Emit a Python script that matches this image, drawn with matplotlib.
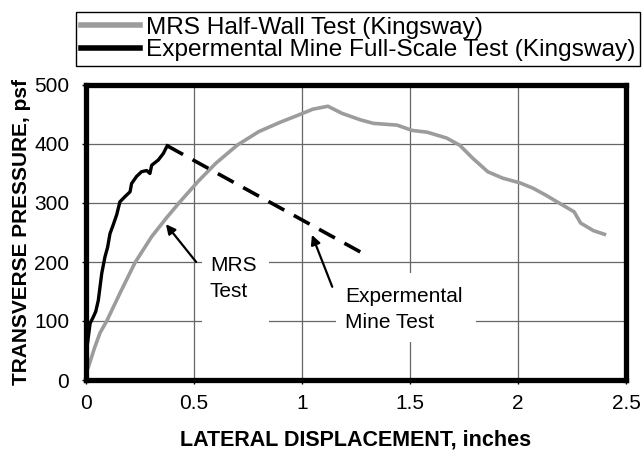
import matplotlib
matplotlib.use("Agg")
import matplotlib.pyplot as plt
from matplotlib.patches import Rectangle

plt.rcParams["font.family"] = ["Liberation Sans", "DejaVu Sans"]

# MRS half-wall test (gray)
mrs_x = [0.011, 0.04, 0.065, 0.096, 0.157, 0.227, 0.304, 0.373, 0.435, 0.52, 0.60,
         0.70, 0.80, 0.90, 0.99, 1.05, 1.12, 1.185, 1.27, 1.33, 1.44, 1.51, 1.58,
         1.67, 1.73, 1.79, 1.86, 1.93, 2.01, 2.07, 2.13, 2.19, 2.26, 2.29, 2.35, 2.40]
mrs_y = [22, 55, 80, 100, 147, 199, 243, 275, 302, 337, 367,
         398, 421, 437, 450, 459, 464, 452, 441, 435, 432, 423, 420,
         410, 398, 376, 353, 342, 334, 325, 313, 300, 285, 266, 253, 247]

# experimental mine full-scale test (black)
exp_x = [0.0, 0.003, 0.019, 0.034, 0.045, 0.057, 0.073, 0.088, 0.10, 0.111, 0.126,
         0.142, 0.157, 0.181, 0.204, 0.211, 0.234, 0.257, 0.281, 0.296, 0.304,
         0.335, 0.358, 0.376]
exp_y = [0, 51, 96, 107, 116, 135, 181, 209, 225, 248, 263,
         280, 302, 311, 319, 333, 345, 353, 355, 350, 364,
         373, 384, 397]

# dashed post-peak segment
drop_x = [0.376, 1.28]
drop_y = [397, 215]

xticks = [0, 0.5, 1, 1.5, 2, 2.5]
yticks = [0, 100, 200, 300, 400, 500]

fig = plt.figure(figsize=(6.43, 4.54), dpi=100)
ax = fig.add_axes([86 / 643, 1 - 380 / 454, 540 / 643, 295 / 454])

ax.set_xlim(0, 2.5)
ax.set_ylim(0, 500)
ax.set_xticks(xticks)
ax.set_xticklabels(["0", "0.5", "1", "1.5", "2", "2.5"])
ax.set_yticks(yticks)
ax.tick_params(labelsize=15, length=3, width=1, pad=7)
ax.tick_params(axis="y", pad=9)

ax.grid(True, color="#666666", lw=0.9, zorder=0)
ax.set_axisbelow(True)
for s in ax.spines.values():
    s.set_linewidth(3.8)
    s.set_zorder(6)

l1, = ax.plot(mrs_x, mrs_y, color="#9c9c9c", lw=2.6, zorder=3,
              label="MRS Half-Wall Test (Kingsway)")
l2, = ax.plot(exp_x, exp_y, color="black", lw=2.4, zorder=4,
              label="Expermental Mine Full-Scale Test (Kingsway)")
ax.plot(drop_x, drop_y, color="black", lw=2.6, dashes=(5, 3), zorder=4)

# white boxes behind annotation text
ax.add_patch(Rectangle((0.537, 85), 0.31, 135, facecolor="white", edgecolor="none", zorder=1))
ax.add_patch(Rectangle((1.157, 64), 0.648, 117, facecolor="white", edgecolor="none", zorder=1))

ax.text(0.574, 172, "MRS\nTest", fontsize=15, va="center", ha="left",
        linespacing=1.45, zorder=5)
ax.text(1.199, 120, "Expermental\nMine Test", fontsize=15, va="center", ha="left",
        linespacing=1.45, zorder=5)

arrow = dict(arrowstyle="-|>", color="black", lw=1.6, mutation_scale=14,
             shrinkA=0, shrinkB=0)
ax.annotate("", xy=(0.37, 264), xytext=(0.51, 200), arrowprops=arrow, zorder=5)
ax.annotate("", xy=(1.046, 246), xytext=(1.14, 158), arrowprops=arrow, zorder=5)

ax.set_xlabel("LATERAL DISPLACEMENT, inches", fontsize=15.5, fontweight="bold", labelpad=12)
ax.set_ylabel("TRANSVERSE PRESSURE, psf", fontsize=15, fontweight="bold", labelpad=2)

leg = fig.legend(handles=[l1, l2], loc="upper left",
                 bbox_to_anchor=(76 / 643, 1 - 12 / 454), fontsize=17.6,
                 frameon=True, fancybox=False, edgecolor="black", framealpha=1,
                 borderpad=0.2, labelspacing=0.0, handlelength=2.4,
                 handletextpad=0.25, borderaxespad=0)
leg.get_frame().set_linewidth(1.0)
for h in leg.legend_handles:
    h.set_linewidth(4)

fig.savefig("out.png", dpi=100)
